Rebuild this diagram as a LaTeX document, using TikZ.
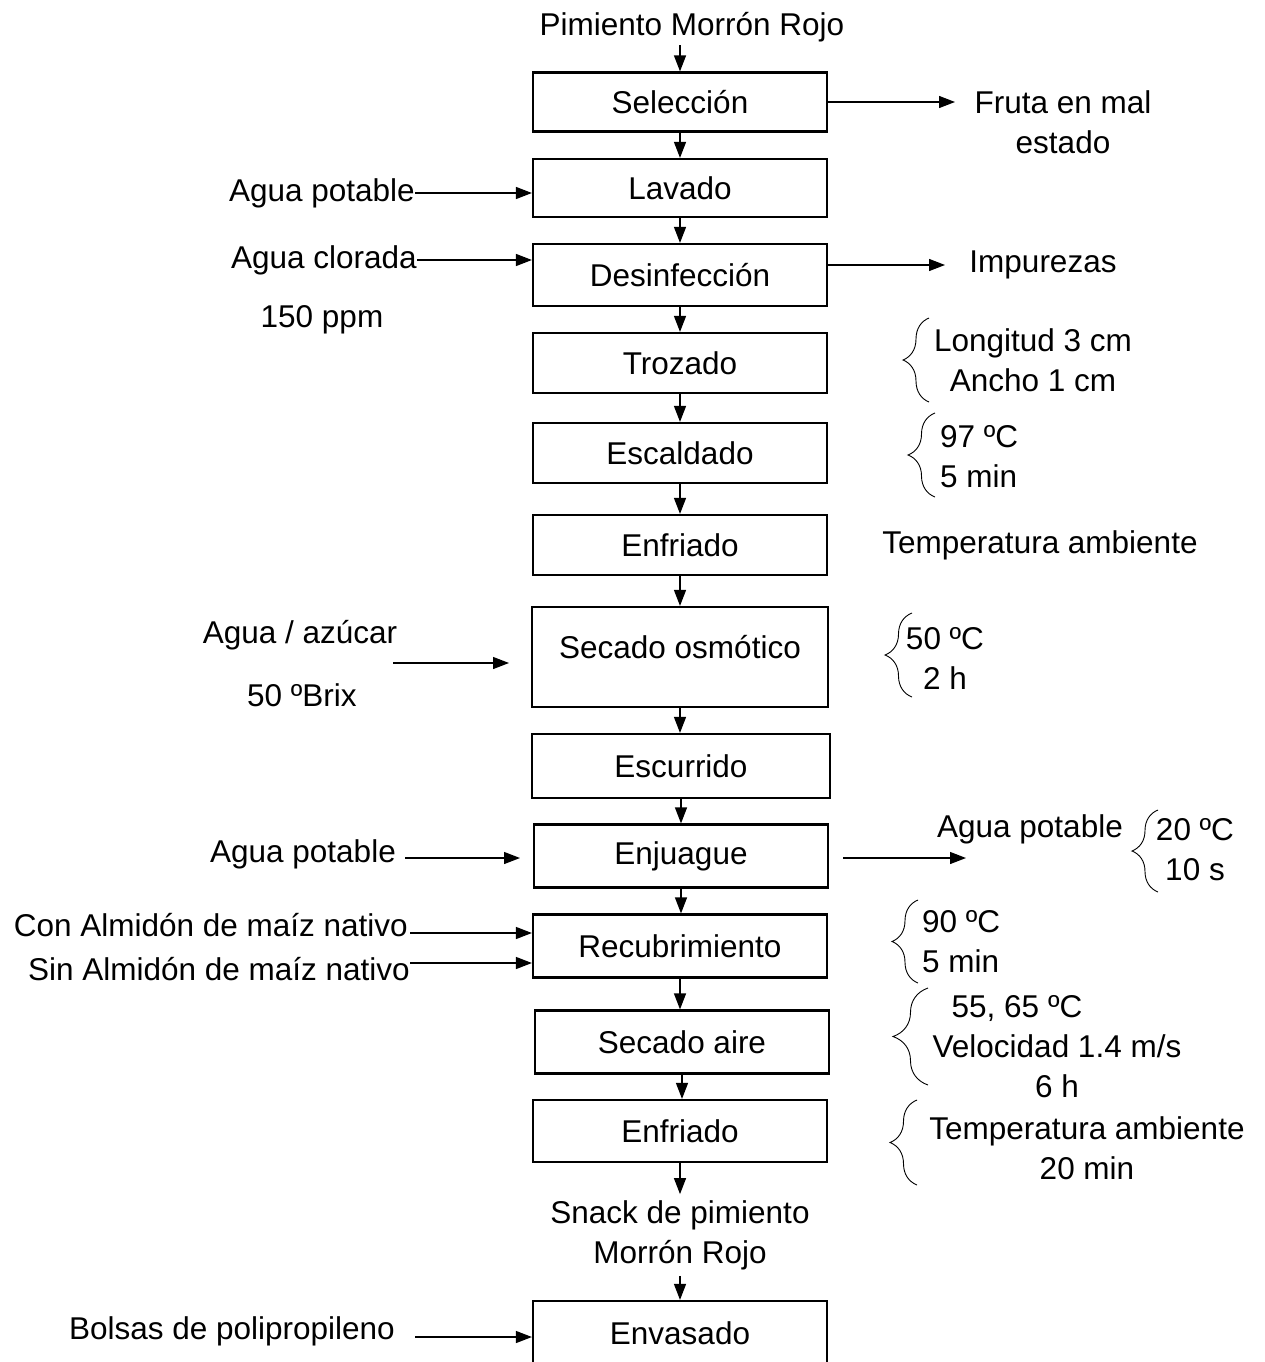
\documentclass[tikz,border=0pt]{standalone}
\usepackage{fontspec}
\setmainfont{Liberation Sans}
\usetikzlibrary{arrows.meta,decorations.pathreplacing}

\begin{document}
\begin{tikzpicture}[x=1pt,y=-1pt,
    font=\fontsize{31.5}{40}\selectfont,
    etapa/.style={draw,line width=2.2pt,minimum width=294pt,
      minimum height=61pt,inner sep=0pt},
    texto/.style={inner sep=0pt,align=center},
    flecha/.style={-{Triangle[length=16pt,width=12pt]},line width=1.3pt},
    llave/.style={decorate,line width=0.9pt,
      decoration={brace,amplitude=#1}}]

    \useasboundingbox (0,0) rectangle (1264,1362);

    \coordinate (e1) at (680,102);
    \coordinate (e2) at (680,188);
    \coordinate (e3) at (680,275);
    \coordinate (e4) at (680,363);
    \coordinate (e5) at (680,453);
    \coordinate (e6) at (680,545);
    \coordinate (e7) at (680,657);
    \coordinate (e8) at (681,766);
    \coordinate (e9) at (681,856);
    \coordinate (e10) at (680,946);
    \coordinate (e11) at (682,1042);
    \coordinate (e12) at (680,1131);
    \coordinate (e13) at (680,1333);

    \node [texto,inner sep=3pt] (pimiento) at (692,27) {Pimiento Morrón Rojo};

    \node [etapa,minimum height=59pt] (sel) at (e1) {Selección};
    \node [etapa,minimum height=58pt] (lav) at (e2) {Lavado};
    \node [etapa,minimum height=62pt] (des) at (e3) {Desinfección};
    \node [etapa,minimum height=60pt] (tro) at (e4) {Trozado};
    \node [etapa,minimum height=60pt] (esc) at (e5) {Escaldado};
    \node [etapa,minimum height=60pt] (enf) at (e6) {Enfriado};
    \node [etapa,minimum width=296pt,minimum height=100pt,
    text depth=20pt] (osm) at (e7) {Secado osmótico};
    \node [etapa,minimum width=298pt,minimum height=64pt] (escu) at (e8) {Escurrido};
    \node [etapa,minimum height=63pt] (enj) at (e9) {Enjuague};
    \node [etapa,minimum height=63pt] (rec) at (e10) {Recubrimiento};
    \node [etapa,minimum height=63pt] (sea) at (e11) {Secado aire};
    \node [etapa,minimum height=62pt] (enf2) at (e12) {Enfriado};
    \node [texto,inner sep=6pt] (snack) at (680,1235) {Snack de pimiento\\Morrón Rojo};
    \node [etapa,minimum height=64pt] (env) at (e13) {Envasado};

    \draw [flecha] (sel.north |- pimiento.south) -- (sel.north);
    \draw [flecha] (sel) -- (lav);
    \draw [flecha] (lav) -- (des);
    \draw [flecha] (des) -- (tro);
    \draw [flecha] (tro) -- (esc);
    \draw [flecha] (esc) -- (enf);
    \draw [flecha] (enf) -- (osm);
    \draw [flecha] (osm.south) -- (osm.south |- escu.north);
    \draw [flecha] (escu) -- (enj);
    \draw [flecha] (enj.south) -- (enj.south |- rec.north);
    \draw [flecha] (rec.south) -- (rec.south |- sea.north);
    \draw [flecha] (sea.south) -- (sea.south |- enf2.north);
    \draw [flecha] (enf2) -- (snack);
    \draw [flecha] (snack) -- (env);

    % entradas
    \node [texto,anchor=east] (agua1) at (415,193) {Agua potable};
    \node [texto,anchor=east] (clorada) at (417,260) {Agua clorada};
    \node [texto] (ppm) at (322,320) {150 ppm};
    \node [texto] (azucar) at (300,635) {Agua / azúcar};
    \node [texto] (brix) at (302,695) {50 ºBrix};
    \node [texto] (agua2) at (303,854) {Agua potable};
    \node [texto,anchor=east] (con) at (408,925) {Con Almidón de maíz nativo};
    \node [texto,anchor=east] (sin) at (410,969) {Sin Almidón de maíz nativo};
    \node [texto] (bolsas) at (232,1331) {Bolsas de polipropileno};

    \coordinate (azA) at (393,663);
    \coordinate (azB) at (509,663);
    \coordinate (potA) at (405,858);
    \coordinate (potB) at (520,858);
    \coordinate (conA) at (410,933);
    \coordinate (sinA) at (410,963);
    \coordinate (bolA) at (415,1337);

    \draw [flecha] (agua1.east) -- (agua1.east -| lav.west);
    \draw [flecha] (clorada.east) -- (clorada.east -| des.west);
    \draw [flecha] (azA) -- (azB);
    \draw [flecha] (potA) -- (potB);
    \draw [flecha] (conA) -- (conA -| rec.west);
    \draw [flecha] (sinA) -- (sinA -| rec.west);
    \draw [flecha] (bolA) -- (bolA -| env.west);

    % salidas
    \coordinate (fruA) at (955,102);
    \coordinate (impA) at (945,265);
    \coordinate (enjA) at (843,858);
    \coordinate (enjB) at (966,858);

    \node [texto] (fruta) at (1063,122) {Fruta en mal\\estado};
    \node [texto] (impurezas) at (1043,265) {Impurezas};
    \node [texto] (agua3) at (1030,829) {Agua potable};

    \draw [flecha] (sel.east) -- (fruA);
    \draw [flecha] (impA -| des.east) -- (impA);
    \draw [flecha] (enjA) -- (enjB);

    % condiciones
    \draw [llave=26pt] (929,402) -- (929,318);
    \node [texto] (corte) at (1033,360) {Longitud 3 cm\\Ancho 1 cm};

    \draw [llave=27pt] (935,497) -- (935,413);
    \node [texto,anchor=west,align=left] (escal) at (940,457) {97 ºC\\5 min};

    \node [texto] (tamb) at (1040,545) {Temperatura ambiente};

    \draw [llave=27pt] (912,697) -- (912,613);
    \node [texto] (osmo) at (945,658) {50 ºC\\2 h};

    \draw [llave=26pt] (1158,892) -- (1158,810);
    \node [texto] (enju) at (1195,850) {20 ºC\\10 s};

    \draw [llave=26pt] (918,983) -- (918,900);
    \node [texto,anchor=west,align=left] (recu) at (922,942) {90 ºC\\5 min};

    \draw [llave=35pt] (928,1085) -- (928,988);
    \node [texto] (aire) at (1057,1047) {55, 65 ºC\hspace*{80pt}\\Velocidad 1.4 m/s\\6 h};

    \draw [llave=27pt] (917,1185) -- (917,1100);
    \node [texto] (enfr) at (1087,1148) {Temperatura ambiente\\20 min};
\end{tikzpicture}
\end{document}
